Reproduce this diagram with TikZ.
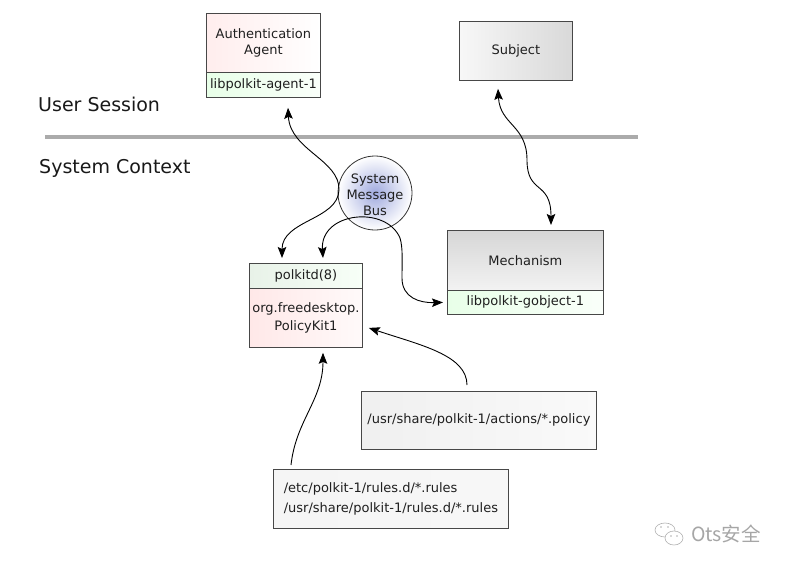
\documentclass[tikz,border=0pt]{standalone}
\usepackage{fontspec}
\setmainfont{DejaVu Sans}
\newfontfamily\cjkfont{Noto Sans CJK SC}
\usetikzlibrary{arrows.meta,calc}
\begin{document}
\begin{tikzpicture}[x=1pt,y=-1pt,
  >={Stealth[length=11pt,width=8.5pt,inset=2pt]},
  box/.style={draw=black!72, line width=0.8pt, rectangle, inner sep=0pt, anchor=north west,
    font=\fontsize{13}{18}\selectfont, text=black!88, align=center},
  biglabel/.style={anchor=west, font=\fontsize{19}{23}\selectfont, text=black!90, inner sep=0pt},
  conn/.style={line width=0.9pt, black},
  pinkfill/.style={left color=red!7, middle color=red!13, right color=white},
  greenfill/.style={left color=green!9, right color=green!2},
  grayh/.style={left color=black!3, right color=black!15},
  sep/.style={line width=4pt, black!33}
]
\useasboundingbox (0,0) rectangle (785,566);
\fill[white] (0,0) rectangle (785,566);

% separator and section labels
\coordinate (sepL) at (45,137);
\coordinate (sepR) at (638,137);
\draw[sep] (sepL) -- (sepR);
\node[biglabel] (us) at (38,104) {User Session};
\node[biglabel] (sc) at (39,168) {System Context};

% Authentication agent
\node[box, pinkfill, minimum width=114pt, minimum height=59pt, font=\fontsize{13}{16}\selectfont] (auth) at (206,13) {\raisebox{-2pt}{}Authentication\\Agent\rule[-3pt]{0pt}{0pt}};
\node[box, greenfill, minimum width=114pt, minimum height=25pt] (authlib) at (206,72) {libpolkit-agent-1};

% Subject
\node[box, grayh, minimum width=113pt, minimum height=59pt] (subj) at (459,21) {Subject};

% System message bus
\node[circle, draw=black!80, line width=0.8pt, minimum size=74pt, inner sep=0pt,
  inner color={rgb,255:red,160;green,170;blue,222}, outer color=white] (bus) at (375,193) {};
\node[font=\fontsize{13}{16}\selectfont, text=black!88, align=center, inner sep=0pt] (bustext) at ([yshift=-2pt]bus.center) {System\\Message\\Bus};

% polkitd
\node[box, left color={rgb,255:red,232;green,242;blue,232}, middle color=green!9, right color=green!3,
  minimum width=113pt, minimum height=25pt] (polk) at (249,263) {polkitd(8)};
\node[box, left color=red!9, middle color=red!12, right color=red!2,
  minimum width=113pt, minimum height=59pt] (pk) at (249,288) {org.freedesktop.\\PolicyKit1};

% Mechanism
\node[box, top color=black!16, bottom color=black!5, minimum width=156pt, minimum height=60pt] (mech) at (447,230) {Mechanism};
\node[box, greenfill, minimum width=156pt, minimum height=24pt] (mechlib) at (447,290) {libpolkit-gobject-1};

% files
\node[box, left color=black!6, middle color=black!13, right color=black!2,
  minimum width=235pt, minimum height=58pt] (actions) at (361,391) {/usr/share/polkit-1/actions/*.policy};
\node[box, left color=black!4, middle color=black!14, right color=black!3,
  minimum width=235pt, minimum height=59pt, align=left, font=\fontsize{13}{20}\selectfont] (rules) at (273,469)
  {/etc/polkit-1/rules.d/*.rules\\/usr/share/polkit-1/rules.d/*.rules};

% connectors
\draw[conn, <->] ([xshift=33pt,yshift=5pt]polk.north west)
  .. controls (282,220) and (338,220) .. (339,190)
  .. controls (340,160) and (290,150) .. ([xshift=82pt,yshift=-10pt]authlib.south west);

\draw[conn, <->] ([xshift=74pt,yshift=5pt]polk.north west)
  .. controls (320,212) and (386,205) .. (400,238)
  .. controls (403,248) and (402,260) .. (402,278)
  .. controls (402,298) and (420,303) .. ([xshift=-4pt]mechlib.west);

\draw[conn, <->] ([xshift=39pt,yshift=-8pt]subj.south west)
  .. controls (500,125) and (527,125) .. (527,160)
  .. controls (527,195) and (551,180) .. ([xshift=104pt,yshift=5pt]mech.north west);

\draw[conn, ->] ([xshift=18pt,yshift=4pt]rules.north west)
  .. controls (296,420) and (323,400) .. ([xshift=74pt,yshift=-5pt]pk.south west);

\draw[conn, ->] ([xshift=106pt,yshift=6pt]actions.north west)
  .. controls (467,355) and (420,345) .. ([xshift=6pt,yshift=-10pt]pk.east);

% watermark
\draw[black!30, line width=0.6pt] (665,530) ellipse [x radius=10, y radius=7];
\fill[white] (674,538) ellipse [x radius=9, y radius=7];
\draw[black!30, line width=0.6pt] (674,538) ellipse [x radius=9, y radius=7];
\fill[black!30] (661,527) circle (0.9) (668,527) circle (0.9) (671,536) circle (0.8) (677,536) circle (0.8);
\node[anchor=west, inner sep=0pt, text=black!35, font=\cjkfont\fontsize{19.5}{22}\selectfont] (wm) at (691,534) {Ots安全};
\end{tikzpicture}
\end{document}
